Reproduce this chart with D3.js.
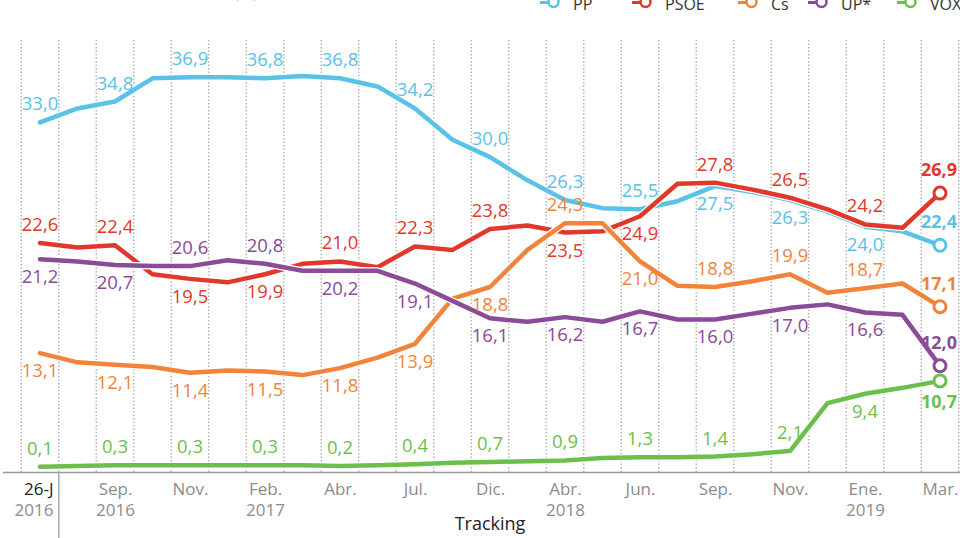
<!DOCTYPE html>
<html>
<head>
<meta charset="utf-8">
<script src="https://cdn.jsdelivr.net/npm/d3@7"></script>
<style>
  body { margin: 0; background: #fff; }
  svg { display: block; font-family: "Open Sans", sans-serif; }
</style>
</head>
<body>
<script>
// tracking points (one every ~month and a half), labels on every second one
const series = ["PP", "PSOE", "Cs", "UP*", "VOX"];
const colors = ["#5bc2e7", "#e2382b", "#f1843a", "#8a4b98", "#6dbf4b"];

const pp   = [33.0, 34.2, 34.8, 36.8, 36.9, 36.9, 36.8, 37.0, 36.8, 36.1, 34.2, 31.5, 30.0, 28.0, 26.3, 25.6, 25.5, 26.2, 27.5, 27.0, 26.3, 25.3, 24.0, 23.6, 22.4];
const psoe = [22.6, 22.2, 22.4, 19.9, 19.5, 19.2, 19.9, 20.8, 21.0, 20.5, 22.3, 22.0, 23.8, 24.1, 23.5, 23.6, 24.9, 27.7, 27.8, 27.2, 26.5, 25.5, 24.2, 23.9, 26.9];
const cs   = [13.1, 12.3, 12.1, 11.9, 11.4, 11.6, 11.5, 11.2, 11.8, 12.7, 13.9, 17.8, 18.8, 22.0, 24.3, 24.3, 21.0, 18.9, 18.8, 19.3, 19.9, 18.3, 18.7, 19.1, 17.1];
const up   = [21.2, 21.0, 20.7, 20.6, 20.6, 21.1, 20.8, 20.2, 20.2, 20.2, 19.1, 17.6, 16.1, 15.8, 16.2, 15.8, 16.7, 16.0, 16.0, 16.5, 17.0, 17.3, 16.6, 16.4, 12.0];
const vox  = [0.1, 0.2, 0.3, 0.3, 0.3, 0.3, 0.3, 0.3, 0.2, 0.3, 0.4, 0.6, 0.7, 0.8, 0.9, 1.2, 1.3, 1.3, 1.4, 1.7, 2.1, 8.2, 9.4, 10.1, 10.7];

const tickMonths = ["26-J", "Sep.", "Nov.", "Feb.", "Abr.", "Jul.", "Dic.", "Abr.", "Jun.", "Sep.", "Nov.", "Ene.", "Mar."];
const tickYears  = ["2016", "2016", "", "2017", "", "", "", "2018", "", "", "", "2019", ""];

// which side of the line each value label goes (a = above, b = below)
const labelSide = {
  "PP":   "aaaaaaaaabbba",
  "PSOE": "aabbaaabbaaaa",
  "Cs":   "bbbbbbbabaaaa",
  "UP*":  "bbaabbbbbbbba",
  "VOX":  "aaaaaaaaaaabb"
};
const legendX = [540, 632, 738, 808, 897];

const values = [pp, psoe, cs, up, vox];
const width = 960, height = 538;

const svg = d3.select("body").append("svg")
  .attr("width", width)
  .attr("height", height);

let x = d3.scalePoint()
  .domain(d3.range(pp.length))
  .range([40, 940]);
const step = x.step();

// lower part of the chart is drawn compressed in the original
let y = d3.scaleLinear()
  .domain([0, 10, 37])
  .range([467.5, 389, 76]);

// dotted vertical guides between the points
const grid = d3.range(pp.length + 1).map(i => 40 + (i - 0.5) * step);
svg.append("g")
  .selectAll("line")
  .data(grid)
  .enter()
  .append("line")
  .attr("x1", d => d).attr("x2", d => d)
  .attr("y1", 40).attr("y2", 472)
  .attr("stroke", "#b5b5b5")
  .attr("stroke-width", 1.5)
  .attr("stroke-dasharray", "1.5,2");

// axis
svg.append("line")
  .attr("x1", 3).attr("x2", width)
  .attr("y1", 472.5).attr("y2", 472.5)
  .attr("stroke", "#9a9a9a")
  .attr("stroke-width", 1.5);

svg.append("line")
  .attr("x1", grid[1]).attr("x2", grid[1])
  .attr("y1", 473).attr("y2", height)
  .attr("stroke", "#a8a8a8")
  .attr("stroke-width", 1.5);

const tickIdx = d3.range(0, pp.length, 2);
const axis = svg.append("g")
  .attr("transform", "translate(0,472.5)")
  .call(d3.axisBottom(x)
    .tickValues(tickIdx)
    .tickSize(0)
    .tickFormat((d, i) => tickMonths[i]));
axis.select(".domain").remove();
axis.attr("font-family", null).attr("font-size", null);

axis.selectAll(".tick text")
  .attr("y", 22.5)
  .attr("dy", null)
  .style("font-size", "17px")
  .attr("fill", (d, i) => i === 0 ? "#222" : "#8c8c8c");

axis.selectAll(".tick")
  .append("text")
  .attr("y", 43.5)
  .attr("fill", "#8c8c8c")
  .style("font-size", "17px")
  .text((d, i) => tickYears[i]);

// the first tick sits against the solid divider
axis.selectAll(".tick")
  .filter((d, i) => i === 0)
  .selectAll("text")
  .attr("text-anchor", "end")
  .attr("x", 13);

svg.append("text")
  .attr("x", 490)
  .attr("y", 530)
  .attr("text-anchor", "middle")
  .style("font-size", "18px")
  .attr("fill", "#222")
  .text("Tracking");

// cut-off title at the top
svg.append("text")
  .attr("x", 246)
  .attr("y", -2)
  .attr("text-anchor", "middle")
  .style("font-size", "17px")
  .attr("fill", "#888")
  .text("(%)");

// lines
const line = d3.line()
  .x((d, i) => x(i))
  .y(d => y(d));

series.forEach(function (name, s) {
  const g = svg.append("g").attr("class", "series");
  g.append("path")
    .attr("d", line(values[s]))
    .attr("fill", "none")
    .attr("stroke", "#fff")
    .attr("stroke-width", 7)
    .attr("stroke-linejoin", "round");
  g.append("path")
    .attr("d", line(values[s]))
    .attr("fill", "none")
    .attr("stroke", colors[s])
    .attr("stroke-width", 4.5)
    .attr("stroke-linejoin", "round")
    .attr("stroke-linecap", "round");
});

// value labels
series.forEach(function (name, s) {
  const data = values[s];
  const last = data.length - 1;
  const labelled = tickIdx.map((idx, k) => ({ idx: idx, v: data[idx], side: labelSide[name][k] }));

  svg.append("g")
    .selectAll("text")
    .data(labelled)
    .enter()
    .append("text")
    .attr("x", d => d.idx === last ? x(d.idx) + 17 : x(d.idx))
    .attr("y", function (d) {
      const isLast = d.idx === last;
      if (d.side === "a") return y(d.v) - (isLast ? 17 : 12);
      return y(d.v) + (isLast ? 27 : 24);
    })
    .attr("text-anchor", d => d.idx === last ? "end" : "middle")
    .style("font-size", d => d.idx === last ? "18px" : "18.5px")
    .style("font-weight", d => d.idx === last ? 700 : 400)
    .attr("fill", colors[s])
    .text(d => d3.format(".1f")(d.v).replace(".", ","));

  svg.append("circle")
    .attr("cx", x(last))
    .attr("cy", y(data[last]))
    .attr("r", 6)
    .attr("fill", "#fff")
    .attr("stroke", colors[s])
    .attr("stroke-width", 3);
});

// legend (top edge is cut in the original)
const legend = svg.append("g")
  .selectAll("g")
  .data(series)
  .enter()
  .append("g")
  .attr("transform", (d, i) => "translate(" + legendX[i] + ",0)");

legend.append("line")
  .attr("x1", 0).attr("x2", 9)
  .attr("y1", 2.5).attr("y2", 2.5)
  .attr("stroke", (d, i) => colors[i])
  .attr("stroke-width", 3);
legend.append("circle")
  .attr("cx", 13.5).attr("cy", 2)
  .attr("r", 5)
  .attr("fill", "#fff")
  .attr("stroke", (d, i) => colors[i])
  .attr("stroke-width", 2.5);
legend.append("text")
  .attr("x", 33)
  .attr("y", 9.5)
  .style("font-size", "16px")
  .attr("fill", "#333")
  .text(d => d);
</script>
</body>
</html>
